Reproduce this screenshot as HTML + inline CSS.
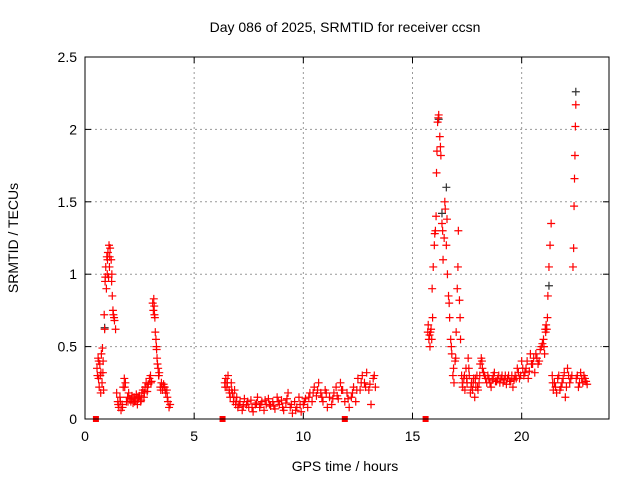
<!DOCTYPE html>
<html><head><meta charset="utf-8"><style>
body{margin:0;background:#fff;}
svg{display:block;font-family:"Liberation Sans",sans-serif;}
</style></head><body>
<svg id="chart" width="640" height="480">
<text x="345" y="32" font-size="14" text-anchor="middle">Day 086 of 2025, SRMTID for receiver ccsn</text>
<text x="345" y="471" font-size="14" text-anchor="middle">GPS time / hours</text>
<text x="18" y="238" font-size="14" text-anchor="middle" transform="rotate(-90 18 238)">SRMTID / TECUs</text>
<g id="grid"></g><g id="ticks"></g><g id="marks"></g>
<rect x="85" y="57" width="524" height="362" fill="none" stroke="#000" stroke-width="1"/>
</svg>
<script>
const xTicks=[0,5,10,15,20];
const yTicks=[0,0.5,1,1.5,2,2.5];
const yTickLabels=["0","0.5","1","1.5","2","2.5"];
const redT=[0.55,0.6,0.62,0.65,0.68,0.7,0.72,0.75,0.78,0.8,0.82,0.85,0.88,0.9,0.92,0.95,0.98,1.0,1.02,1.05,1.08,1.1,1.12,1.15,1.2,1.22,1.25,1.28,1.3,1.35,1.4,
1.45,1.5,1.55,1.6,1.65,1.7,1.75,1.8,1.85,1.9,1.95,2.0,2.05,2.1,2.15,2.2,2.25,2.3,2.35,2.4,2.45,2.5,2.55,2.6,2.65,2.7,2.75,2.8,2.85,2.9,2.95,3.0,3.05,
3.1,3.13,3.15,3.18,3.2,3.22,3.25,3.28,3.3,3.32,3.35,3.38,3.4,3.45,3.5,3.55,3.6,3.65,3.7,3.75,3.8,3.85,3.9,
6.4,6.45,6.5,6.55,6.6,6.65,6.7,6.75,6.8,6.85,6.9,6.95,7.0,7.1,7.2,7.3,7.4,7.5,7.6,7.7,7.8,7.9,8.0,8.1,8.2,8.3,8.4,8.5,8.6,8.7,8.8,8.9,9.0,9.1,9.2,9.3,9.4,9.5,9.6,9.7,9.8,9.9,10.0,10.1,10.2,10.3,10.4,10.5,10.6,10.7,10.8,10.9,11.0,11.1,11.2,11.3,11.4,11.5,11.6,11.7,11.8,11.9,12.0,12.1,12.2,12.3,12.4,12.5,12.6,12.7,12.8,12.9,13.0,13.1,13.2,13.3,
15.7,15.75,15.8,15.85,15.9,15.95,16.0,16.05,16.1,16.15,16.2,16.25,16.3,16.35,16.4,16.45,16.5,16.55,16.6,16.65,16.7,16.75,16.8,16.85,16.9,16.95,17.0,17.05,17.1,17.15,17.2,17.25,17.3,17.35,17.4,17.45,17.5,17.55,17.6,17.65,17.7,17.75,17.8,17.85,17.9,17.95,18.0,18.05,18.1,18.15,18.2,18.3,18.4,18.5,18.6,18.7,18.8,18.9,19.0,19.1,19.2,19.3,19.4,19.5,19.6,19.7,19.8,19.9,20.0,20.1,20.2,20.3,20.4,20.5,20.6,20.7,20.8,20.9,21.0,21.05,21.1,21.15,21.2,21.25,21.3,21.35,21.4,21.45,21.5,21.6,21.7,21.8,21.9,22.0,22.1,22.2,22.3,22.35,22.38,22.4,22.42,22.44,22.46,22.48,22.5,22.6,22.7,22.8,22.9,23.0];
const redV=[0.35,0.42,0.28,0.22,0.38,0.30,0.18,0.45,0.25,0.49,0.32,0.20,0.72,0.62,0.95,1.05,0.9,1.12,1.0,1.15,0.98,1.2,1.05,1.18,1.1,0.95,0.85,0.75,0.72,0.68,0.62,
0.18,0.12,0.08,0.15,0.06,0.10,0.22,0.28,0.25,0.12,0.15,0.18,0.14,0.12,0.16,0.11,0.15,0.13,0.17,0.10,0.14,0.16,0.12,0.18,0.2,0.15,0.22,0.25,0.19,0.24,0.28,0.3,0.26,
0.8,0.75,0.83,0.72,0.7,0.6,0.55,0.48,0.42,0.38,0.35,0.3,0.32,0.22,0.25,0.2,0.24,0.22,0.18,0.2,0.12,0.08,0.1,
0.25,0.28,0.22,0.3,0.2,0.15,0.25,0.18,0.12,0.2,0.1,0.15,0.08,0.12,0.06,0.14,0.1,0.08,0.13,0.05,0.1,0.15,0.08,0.12,0.06,0.1,0.14,0.09,0.12,0.07,0.15,0.1,0.13,0.06,0.11,0.18,0.08,0.04,0.12,0.08,0.15,0.05,0.1,0.14,0.08,0.18,0.12,0.22,0.16,0.25,0.18,0.12,0.2,0.08,0.15,0.1,0.18,0.22,0.14,0.25,0.2,0.12,0.18,0.08,0.15,0.22,0.12,0.28,0.2,0.3,0.25,0.32,0.2,0.1,0.28,0.22,
0.6,0.55,0.5,0.62,0.9,1.05,1.2,1.3,1.7,2.05,2.1,1.95,1.82,1.35,1.1,1.25,1.45,1.2,1.0,0.85,0.7,0.55,0.45,0.3,0.25,0.4,0.6,0.9,1.3,0.82,0.55,0.3,0.22,0.28,0.2,0.35,0.25,0.42,0.3,0.18,0.25,0.2,0.28,0.15,0.22,0.3,0.2,0.25,0.38,0.42,0.35,0.3,0.25,0.28,0.22,0.3,0.26,0.28,0.25,0.3,0.27,0.24,0.3,0.26,0.22,0.3,0.35,0.28,0.4,0.3,0.35,0.28,0.45,0.38,0.32,0.42,0.4,0.5,0.55,0.45,0.6,0.62,0.85,1.05,1.2,1.35,0.3,0.2,0.25,0.18,0.3,0.22,0.28,0.15,0.35,0.25,0.3,1.05,1.18,1.47,1.66,1.82,2.02,2.17,0.28,0.22,0.32,0.25,0.28,0.24];
const extraT=[0.57,0.63,0.73,0.83,0.93,1.03,1.13,1.23,1.33,1.52,1.62,1.72,1.82,1.97,2.12,2.27,2.42,2.57,2.72,2.87,3.02,3.17,3.27,3.37,3.47,3.57,3.67,3.77,6.42,6.52,6.62,6.72,6.82,6.92,7.05,7.25,7.45,7.65,7.85,8.05,8.25,8.45,8.65,8.85,9.05,9.25,9.45,9.65,9.85,10.05,10.25,10.45,10.65,10.85,11.05,11.35,11.55,11.75,12.05,12.25,12.45,12.65,12.85,13.05,13.25,
15.72,15.78,15.82,15.88,15.92,16.02,16.08,16.12,16.18,16.28,16.38,16.48,16.58,16.68,16.78,16.88,16.98,17.08,17.18,17.28,17.38,17.48,17.58,17.68,17.78,17.88,17.98,18.08,18.18,18.25,18.35,18.45,18.55,18.65,18.75,18.85,18.95,19.05,19.15,19.25,19.35,19.45,19.55,19.65,19.75,19.85,19.95,20.05,20.15,20.25,20.35,20.45,20.55,20.65,20.75,20.85,20.95,21.02,21.08,21.12,21.18,21.42,21.55,21.65,21.75,21.85,21.95,22.05,22.15,22.25,22.55,22.65,22.75,22.85,22.95];
const extraV=[0.3,0.4,0.32,0.4,0.98,1.1,1.12,1.0,0.7,0.1,0.12,0.08,0.22,0.12,0.14,0.12,0.15,0.13,0.18,0.22,0.25,0.78,0.5,0.3,0.2,0.22,0.2,0.15,0.22,0.25,0.18,0.2,0.15,0.12,0.1,0.09,0.12,0.08,0.11,0.1,0.13,0.1,0.09,0.12,0.08,0.14,0.1,0.06,0.1,0.12,0.15,0.18,0.2,0.15,0.18,0.14,0.16,0.2,0.14,0.18,0.2,0.25,0.22,0.24,0.3,
0.65,0.58,0.6,0.55,0.7,1.28,1.4,1.85,2.08,1.88,1.3,1.5,1.38,0.8,0.5,0.35,0.42,1.05,0.7,0.25,0.3,0.28,0.35,0.22,0.25,0.28,0.22,0.3,0.4,0.32,0.28,0.3,0.25,0.27,0.32,0.26,0.3,0.28,0.25,0.3,0.28,0.26,0.3,0.27,0.28,0.32,0.3,0.35,0.32,0.4,0.33,0.38,0.42,0.45,0.38,0.48,0.52,0.5,0.62,0.65,0.7,0.25,0.22,0.28,0.2,0.25,0.32,0.22,0.3,0.28,0.3,0.25,0.28,0.3,0.26];
const grayT=[0.9,16.2,16.35,16.55,21.25,22.48];
const grayV=[0.63,2.07,1.42,1.6,0.92,2.26];
const zeroT=[0.5,6.3,11.9,15.6];
const NS="http://www.w3.org/2000/svg";
const X0=85,X1=609,Y0=419,Y1=57;
const xs=t=>X0+t/24*(X1-X0);
const ys=v=>Y0-v/2.5*(Y0-Y1);
function mk(tag,attrs,parent){const e=document.createElementNS(NS,tag);for(const k in attrs)e.setAttribute(k,attrs[k]);parent.appendChild(e);return e;}
const grid=document.getElementById('grid'),ticks=document.getElementById('ticks'),marks=document.getElementById('marks');
xTicks.forEach(t=>{const x=xs(t);
 if(t>0){const g=mk('line',{x1:x,x2:x,y1:Y1,y2:Y0,stroke:'#999','stroke-dasharray':'2,3'},grid);
 
 }
 mk('line',{x1:x,x2:x,y1:Y0,y2:Y0-6,stroke:'#000'},ticks);mk('line',{x1:x,x2:x,y1:Y1,y2:Y1+6,stroke:'#000'},ticks);
 const l=mk('text',{x:x,y:Y0+22,'font-size':14,'text-anchor':'middle'},ticks);l.textContent=t;
 
 });
yTicks.forEach((v,i)=>{const y=ys(v);
 if(v>0&&v<2.5){const g=mk('line',{x1:X0,x2:X1,y1:y,y2:y,stroke:'#999','stroke-dasharray':'2,3'},grid);
 
 }
 mk('line',{x1:X0,x2:X0+6,y1:y,y2:y,stroke:'#000'},ticks);mk('line',{x1:X1,x2:X1-6,y1:y,y2:y,stroke:'#000'},ticks);
 const l=mk('text',{x:X0-8,y:y+5,'font-size':14,'text-anchor':'end'},ticks);l.textContent=yTickLabels[i];
 
 });
function plus(t,v,col,name){const x=xs(t),y=ys(v);
 const p=mk('path',{d:`M${x-4},${y}H${x+4}M${x},${y-4}V${y+4}`,stroke:col,'stroke-width':1.2,fill:'none'},marks);
 
 }
grayT.forEach((t,i)=>plus(t,grayV[i],'#333','gray-point'));
redT.forEach((t,i)=>plus(t,redV[i],'#ff0000','red-point'));
extraT.forEach((t,i)=>plus(t,extraV[i],'#ff0000','red-point'));
zeroT.forEach(t=>{const r=mk('rect',{x:xs(t)-3,y:Y0-3,width:6,height:6,fill:'#ff0000'},marks);
 
 });
</script>
</body></html>
